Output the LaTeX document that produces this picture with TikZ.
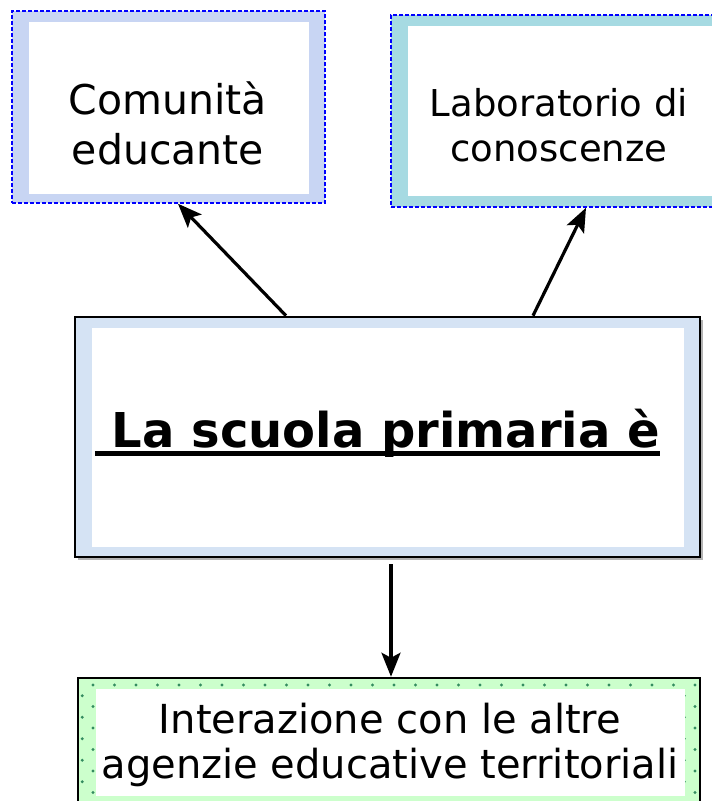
\documentclass[tikz,border=0pt]{standalone}
\usepackage{fontspec}
\setmainfont{DejaVu Sans}
\usetikzlibrary{arrows.meta, calc, shadows}

\definecolor{combg}{RGB}{200,213,243}
\definecolor{labbg}{RGB}{166,218,226}
\definecolor{mainblue}{RGB}{213,227,244}
\definecolor{aggreen}{RGB}{204,255,204}
\definecolor{agdot}{RGB}{52,140,96}

\tikzset{
  topbox/.style={draw=blue, line width=1.5pt, dash pattern=on 4pt off 2pt, inner sep=0pt},
  mainbox/.style={draw=black, line width=2.6pt, fill=mainblue, inner sep=0pt,
    drop shadow={shadow xshift=2.5pt, shadow yshift=-2.5pt, fill=gray!60, opacity=1}},
  agbox/.style={draw=black, line width=2.5pt, fill=aggreen, inner sep=0pt},
  whitebox/.style={fill=white, inner sep=0pt},
  arr/.style={line width=3.2pt, -{Stealth[length=24pt, width=19pt, inset=5pt]}},
}

\begin{document}
\begin{tikzpicture}[x=1pt, y=-1pt]
    \useasboundingbox (0,0) rectangle (712,801);

    % Upper boxes:
    \node[topbox, fill=combg, minimum width=313pt, minimum height=192pt] (comm) at (168.5,107) {};
    \node[whitebox, minimum width=280pt, minimum height=172pt] (commin) at (169,108) {};
    \node[font=\fontsize{41}{50}\selectfont, align=center] (commtxt) at (168,123) {Comunità\\educante};

    \node[topbox, fill=labbg, minimum width=336pt, minimum height=192pt] (lab) at (559,111) {};
    \node[whitebox, minimum width=305pt, minimum height=170pt] (labin) at (560.5,111) {};
    \node[font=\fontsize{37}{45}\selectfont, align=center] (labtxt) at (559,125.5) {Laboratorio di\\conoscenze};

    % Main box:
    \node[mainbox, minimum width=625pt, minimum height=240pt] (main) at (387.5,437) {};
    \node[whitebox, minimum width=592pt, minimum height=219pt] (mainin) at (388,437.5) {};
    \node[font=\fontsize{48}{57}\selectfont\bfseries, inner sep=0pt, anchor=base] (title) at (377.5,447) {\ La scuola primaria è};
    \draw[line width=4.5pt] ($(title.base west)+(0,6.5)$) -- ($(title.base east)+(0,6.5)$);

    % Lower box, dotted green frame:
    \node[agbox, minimum width=622pt, minimum height=137pt] (agen) at (389,746.5) {};
    \begin{scope}
        \clip (agen.north west) rectangle (agen.south east);
        \foreach \i in {0,...,29}
            \foreach \j in {0,...,6} {
                \fill[agdot] (71.5+21.5*\i, 685+21.5*\j) circle[radius=1.6pt];
                \fill[agdot] (82.25+21.5*\i, 695.75+21.5*\j) circle[radius=1.6pt];
            }
    \end{scope}
    \node[whitebox, minimum width=589pt, minimum height=107pt] (agenin) at (390.5,742.5) {};
    \node[font=\fontsize{40}{45}\selectfont, align=center] (agentxt) at (390,745) {Interazione con le altre\\agenzie educative territoriali};

    % Arrows:
    \draw[arr] ($(main.north)+(-101.5,0)$) -- ($(comm.south)+(9.5,0)$);
    \draw[arr] ($(main.north)+(145.5,0)$) -- ($(lab.south)+(27,0)$);
    \coordinate (down) at ($(main.south)+(3.5,6)$);
    \draw[arr] (down) -- (down |- agen.north);
\end{tikzpicture}
\end{document}
